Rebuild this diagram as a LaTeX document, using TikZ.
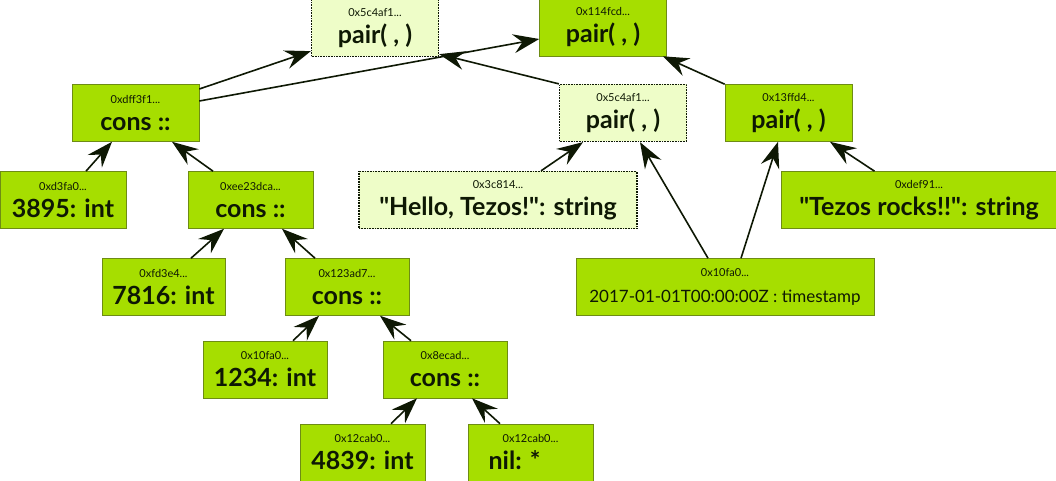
\documentclass[tikz,border=0pt]{standalone}
\usepackage{fontspec}
\setmainfont{Lato}
\usetikzlibrary{arrows.meta}
\definecolor{cellgreen}{RGB}{166,222,0}
\definecolor{celledge}{RGB}{110,140,20}
\definecolor{ghostfill}{RGB}{238,253,200}
\definecolor{arrowink}{RGB}{14,24,4}
\tikzset{cell/.style={rectangle, fill=cellgreen, draw=celledge, line width=0.6pt, minimum width=127pt, minimum height=57pt, inner sep=0pt, align=center, text=arrowink, font=\fontsize{25}{26}\selectfont\bfseries},
  ghost/.style={cell, fill=ghostfill, draw=arrowink, densely dotted, line width=1.3pt},
  link/.style={arrowink, line width=1.6pt, -{Stealth[length=26pt,width=19pt,inset=9pt]}}}
\newcommand{\addr}[1]{{\fontsize{11}{11}\selectfont\mdseries #1}}
\newcommand{\qt}{\textquotedbl}

\begin{document}
\begin{tikzpicture}[x=1pt,y=-1pt]
  \useasboundingbox (0,0) rectangle (1056,481);
  \node[ghost] (pairA) at (375,28) {\addr{0x5c4af1...}\\[1pt] pair( , )};
  \node[cell] (pairB) at (603,27.5) {\addr{0x114fcd...}\\[1pt] pair( , )};
  \node[cell] (consA) at (135.5,113) {\addr{0xdff3f1...}\\[1pt] cons ::};
  \node[ghost] (pairC) at (623,113) {\addr{0x5c4af1...}\\[1pt] pair( , )};
  \node[cell] (pairD) at (788.5,113) {\addr{0x13ffd4...}\\[1pt] pair( , )};
  \node[cell, minimum width=126pt] (intA) at (63,200) {\addr{0xd3fa0...}\\[1pt] 3895: int};
  \node[cell, minimum width=125pt] (consB) at (250.5,200) {\addr{0xee23dca...}\\[1pt] cons ::};
  \node[ghost, minimum width=278pt] (strA) at (498,200) {\addr{0x3c814...}\\[1pt] \qt Hello, Tezos!\qt: string};
  \node[cell, minimum width=276pt] (strB) at (919,200) {\addr{0xdef91...}\\[1pt] \qt Tezos rocks!!\qt: string};
  \node[cell, minimum width=123pt] (intB) at (163.5,287) {\addr{0xfd3e4...}\\[1pt] 7816: int};
  \node[cell, minimum width=124pt] (consC) at (347,287) {\addr{0x123ad7...}\\[1pt] cons ::};
  \node[cell, minimum width=298pt, font=\fontsize{17}{18}\selectfont\mdseries] (stamp) at (725,287) {\addr{0x10fa0...}\\[8pt] 2017-01-01T00:00:00Z : timestamp};
  \node[cell, minimum width=124pt] (intC) at (265,369.5) {\addr{0x10fa0...}\\[1pt] 1234: int};
  \node[cell, minimum width=124pt] (consD) at (445,369.5) {\addr{0x8ecad...}\\[1pt] cons ::};
  \node[cell, minimum width=125pt] (intD) at (362.5,452.5) {\addr{0x12cab0...}\\[1pt] 4839: int};
  \node[cell, minimum width=125pt] (nil) at (530.5,452.5) {\addr{0x12cab0...}\\[1pt] nil: *\hspace*{32pt}};

  \draw[link] ([yshift=24pt]consA.east) -- ([yshift=6pt]pairA.south west);
  \draw[link] ([yshift=12pt]consA.east) -- ([yshift=-11.5pt]pairB.west);
  \draw[link] (pairC.north west) -- ([yshift=3pt]pairA.south east);
  \draw[link] (pairD.north west) -- ([xshift=-4pt]pairB.south east);
  \draw[link] ([xshift=23pt]intA.north) -- ([xshift=-23.5pt]consA.south);
  \draw[link] ([xshift=-37.5pt]consB.north) -- ([xshift=36.5pt]consA.south);
  \draw[link] ([xshift=43pt]strA.north) -- ([xshift=-40pt]pairC.south);
  \draw[link] ([xshift=-17pt]stamp.north) -- ([xshift=17pt]pairC.south);
  \draw[link] ([xshift=16pt]stamp.north) -- ([xshift=-10.5pt]pairD.south);
  \draw[link] ([xshift=-44.5pt]strB.north) -- ([xshift=41.5pt]pairD.south);
  \draw[link] ([xshift=27.5pt]intB.north) -- ([xshift=-26.5pt]consB.south);
  \draw[link] ([xshift=-32pt]consC.north) -- ([xshift=31.5pt]consB.south);
  \draw[link] ([xshift=28pt]intC.north) -- ([xshift=-28pt]consC.south);
  \draw[link] ([xshift=-34pt]consD.north) -- ([xshift=33pt]consC.south);
  \draw[link] ([xshift=28.5pt]intD.north) -- ([xshift=-28pt]consD.south);
  \draw[link] ([xshift=-30.5pt]nil.north) -- ([xshift=27pt]consD.south);
\end{tikzpicture}
\end{document}
